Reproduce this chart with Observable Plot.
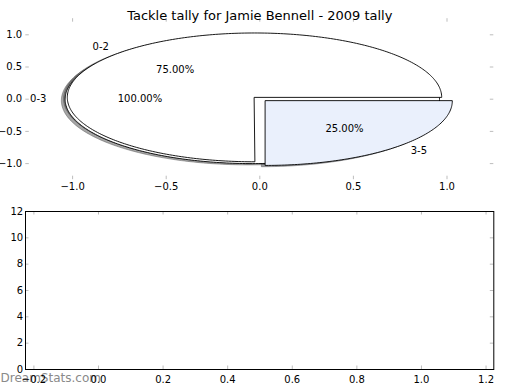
<!DOCTYPE html>
<html><head><meta charset="utf-8">
<script src="https://cdn.jsdelivr.net/npm/d3@7"></script>
<script src="https://cdn.jsdelivr.net/npm/@observablehq/plot@0.6"></script>
<style>
html,body{margin:0;padding:0;background:#fff;}
#chart{position:relative;width:520px;height:390px;overflow:hidden;font-family:"DejaVu Sans",sans-serif;}
#top,#bottom{position:absolute;left:0;}
#top{top:0;} #bottom{top:200px;}
</style></head><body>
<div id="chart"><div id="top"></div><div id="bottom"></div></div>
<script>
// ---- data ----
const title = "Tackle tally for Jamie Bennell - 2009 tally";
const sliceLabels = ["0-3", "0-2", "3-5"];
const sliceFracs = [1.0, 0.75, 0.25];
const sliceExplode = [0.04, 0.04, 0.04];
const pieTicks = [-1, -0.5, 0, 0.5, 1];
const lowerXTicks = [-0.2, 0, 0.2, 0.4, 0.6, 0.8, 1.0, 1.2];
const lowerYTicks = [0, 2, 4, 6, 8, 10, 12];
const watermark = "DreamStats.com";

// ---- styles ----
const sliceFills = ["#ffffff", "#ffffff", "#eaf0fc"];
const shadowOffset = -0.02;
const tickColor = "#bdbdbd";
const font = "DejaVu Sans";

// ---- build pie geometry (matplotlib-style pie, radius 1) ----
const wedges = [], shadows = [], labelTexts = [], pctTexts = [];
let acc = 0;
sliceFracs.forEach((f, i) => {
  const t1 = acc, t2 = acc + f; acc = t2;
  const mid = Math.PI * (t1 + t2);
  const cx = sliceExplode[i] * Math.cos(mid), cy = sliceExplode[i] * Math.sin(mid);
  const full = f >= 1;
  const n = Math.max(4, Math.ceil(f * 360));
  const poly = full ? [] : [{id: i, x: cx, y: cy}];
  for (let k = 0; k <= (full ? n - 1 : n); k++) {
    const a = 2 * Math.PI * (t1 + f * k / n);
    poly.push({id: i, x: cx + Math.cos(a), y: cy + Math.sin(a)});
  }
  wedges.push(poly);
  shadows.push(poly.map(p => ({id: i, x: p.x + shadowOffset, y: p.y + shadowOffset})));
  const lx = cx + 1.1 * Math.cos(mid), ly = cy + 1.1 * Math.sin(mid);
  labelTexts.push({x: lx, y: ly, text: sliceLabels[i], anchor: lx > 0 ? "start" : "end"});
  pctTexts.push({x: cx + 0.6 * Math.cos(mid), y: cy + 0.6 * Math.sin(mid), text: (100 * f).toFixed(2) + "%"});
});

const shadowColor = c => {
  const r = d3.rgb(c);
  return d3.rgb(r.r * 0.3, r.g * 0.3, r.b * 0.3).formatHex();
};

const fmt1 = d3.format(".1f");

// ---- top (pie) panel ----
const topW = 520, topH = 200;
const topM = {l: 25.3, r: 26.7, t: 18.2, b: 20.8};
const topInnerH = topH - topM.t - topM.b;
const topInnerW = topW - topM.l - topM.r;

const topMarks = [];
shadows.forEach((s, i) => {
  const sc = shadowColor(sliceFills[i]);
  topMarks.push(Plot.line(s, {x: "x", y: "y", curve: "linear-closed", fill: sc, fillOpacity: 0.5, stroke: sc, strokeOpacity: 0.5, strokeWidth: 0.9}));
});
wedges.forEach((w, i) => {
  topMarks.push(Plot.line(w, {x: "x", y: "y", curve: "linear-closed", fill: sliceFills[i], stroke: "#000", strokeWidth: 0.9}));
});
topMarks.push(
  Plot.text(labelTexts.filter(d => d.anchor === "end"), {x: "x", y: "y", text: "text", textAnchor: "end", fontSize: 10, fill: "#000"}),
  Plot.text(labelTexts.filter(d => d.anchor === "start"), {x: "x", y: "y", text: "text", textAnchor: "start", fontSize: 10, fill: "#000"}),
  Plot.text(pctTexts, {x: "x", y: "y", text: "text", fontSize: 10, fill: "#000"}),
  // inward ticks on all four sides
  Plot.tickX(pieTicks, {x: d => d, insetTop: topInnerH - 3.5, stroke: tickColor}),
  Plot.tickX(pieTicks, {x: d => d, insetBottom: topInnerH - 3.5, stroke: tickColor}),
  Plot.tickY(pieTicks, {y: d => d, insetRight: topInnerW - 3.5, stroke: tickColor}),
  Plot.tickY(pieTicks, {y: d => d, insetLeft: topInnerW - 3.5, stroke: tickColor}),
  Plot.axisX({ticks: pieTicks, tickSize: 0, tickPadding: 3, tickFormat: fmt1, label: null, fontSize: 10}),
  Plot.axisY({ticks: pieTicks, tickSize: 0, tickPadding: 3.6, tickFormat: fmt1, label: null, fontSize: 10}),
  Plot.text([title], {frameAnchor: "top", text: d => d, dy: -8.4, fontSize: 13, fill: "#000"})
);

const topPlot = Plot.plot({
  width: topW, height: topH,
  marginLeft: topM.l, marginRight: topM.r, marginTop: topM.t, marginBottom: topM.b,
  x: {domain: [-1.25, 1.25]},
  y: {domain: [-1.25, 1.25]},
  style: {fontFamily: font, fontSize: "10px", background: "transparent", overflow: "visible"},
  marks: topMarks
});
document.getElementById("top").appendChild(topPlot);

// ---- bottom (empty) panel ----
const botW = 520, botH = 190;
const botM = {l: 25, r: 26.7, t: 11, b: 21};
const botInnerH = botH - botM.t - botM.b;
const botInnerW = botW - botM.l - botM.r;

const botPlot = Plot.plot({
  width: botW, height: botH,
  marginLeft: botM.l, marginRight: botM.r, marginTop: botM.t, marginBottom: botM.b,
  x: {domain: [-0.226, 1.224]},
  y: {domain: [0, 12]},
  style: {fontFamily: font, fontSize: "10px", background: "transparent", overflow: "visible"},
  marks: [
    Plot.text([watermark], {frameAnchor: "bottom-left", textAnchor: "start", text: d => d, dx: -botM.l, dy: 12.2, fontSize: 12, fill: "#8a8a8a"}),
    Plot.tickX(lowerXTicks, {x: d => d, insetTop: botInnerH - 3.5, stroke: tickColor}),
    Plot.tickX(lowerXTicks, {x: d => d, insetBottom: botInnerH - 3.5, stroke: tickColor}),
    Plot.tickY(lowerYTicks, {y: d => d, insetRight: botInnerW - 3.5, stroke: tickColor}),
    Plot.tickY(lowerYTicks, {y: d => d, insetLeft: botInnerW - 3.5, stroke: tickColor}),
    Plot.frame({stroke: "#000", strokeWidth: 1}),
    Plot.axisX({ticks: lowerXTicks, tickSize: 0, tickPadding: 6.5, tickFormat: fmt1, label: null, fontSize: 10}),
    Plot.axisY({ticks: lowerYTicks, tickSize: 0, tickPadding: 2.3, tickFormat: d3.format("d"), label: null, fontSize: 10})
  ]
});
document.getElementById("bottom").appendChild(botPlot);
</script>
</body></html>
